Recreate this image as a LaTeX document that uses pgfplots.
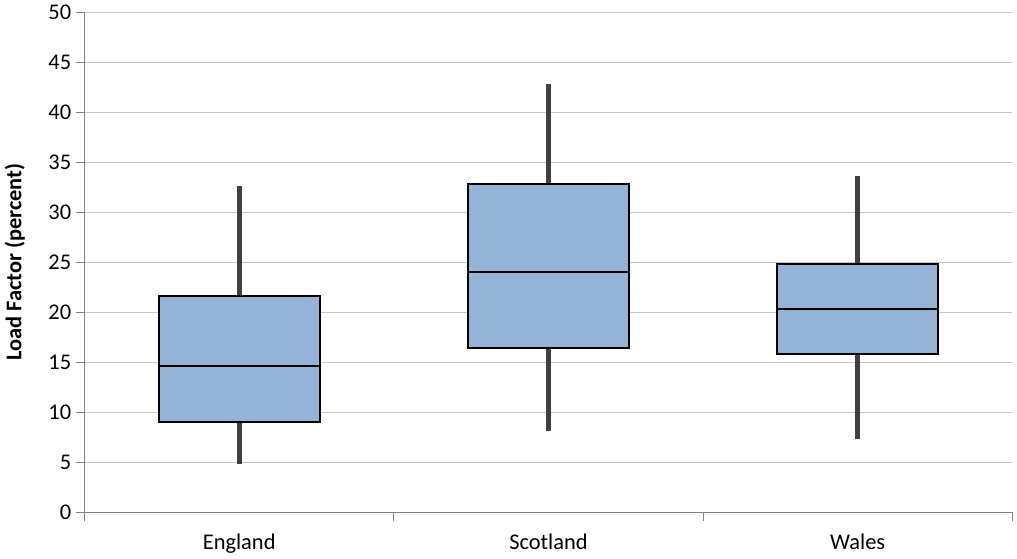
\documentclass[border=0pt]{standalone}
\usepackage{pgfplots}
\pgfplotsset{compat=1.18}
\usepackage{fontspec}
\setmainfont{Carlito}
\definecolor{boxblue}{RGB}{149,179,215}
\definecolor{whisk}{RGB}{64,64,64}
\begin{document}
\begin{tikzpicture}
\begin{axis}[
  width=662pt, height=357pt, scale only axis,
  xmin=0.5, xmax=3.5, ymin=0, ymax=50,
  ytick={0,5,...,50},
  xtick={0.5,1.5,2.5,3.5}, xticklabels={},
  extra x ticks={1,2,3}, extra x tick labels={England,Scotland,Wales},
  extra x tick style={major tick length=0pt, grid=none, xticklabel style={yshift=-12pt}},
  ymajorgrids, grid style={draw=gray!45, line width=0.6pt},
  axis x line*=bottom, axis y line*=left,
  axis line style={draw=gray, line width=0.6pt},
  tick style={draw=gray, line width=0.6pt}, tick align=outside, major tick length=6pt,
  ticklabel style={font=\fontsize{16}{19}\selectfont},
  /pgf/number format/assume math mode=true,
  ylabel={\textbf{Load Factor (percent)}},
  ylabel style={font=\fontsize{16}{19}\selectfont, yshift=10pt},
  clip=false,
]
% whiskers
\addplot[whisk, line width=3.5pt] coordinates {(1,4.8) (1,32.6)};
\addplot[whisk, line width=3.5pt] coordinates {(2,8.1) (2,42.8)};
\addplot[whisk, line width=3.5pt] coordinates {(3,7.3) (3,33.6)};
% boxes
\addplot[fill=boxblue, draw=black, line width=1.3pt] coordinates {(0.74,9.0) (1.26,9.0) (1.26,21.6) (0.74,21.6)} -- cycle;
\addplot[fill=boxblue, draw=black, line width=1.3pt] coordinates {(1.74,16.4) (2.26,16.4) (2.26,32.8) (1.74,32.8)} -- cycle;
\addplot[fill=boxblue, draw=black, line width=1.3pt] coordinates {(2.74,15.8) (3.26,15.8) (3.26,24.8) (2.74,24.8)} -- cycle;
% medians
\addplot[black, line width=1.3pt] coordinates {(0.74,14.6) (1.26,14.6)};
\addplot[black, line width=1.3pt] coordinates {(1.74,24.0) (2.26,24.0)};
\addplot[black, line width=1.3pt] coordinates {(2.74,20.3) (3.26,20.3)};
\end{axis}
\end{tikzpicture}
\end{document}
